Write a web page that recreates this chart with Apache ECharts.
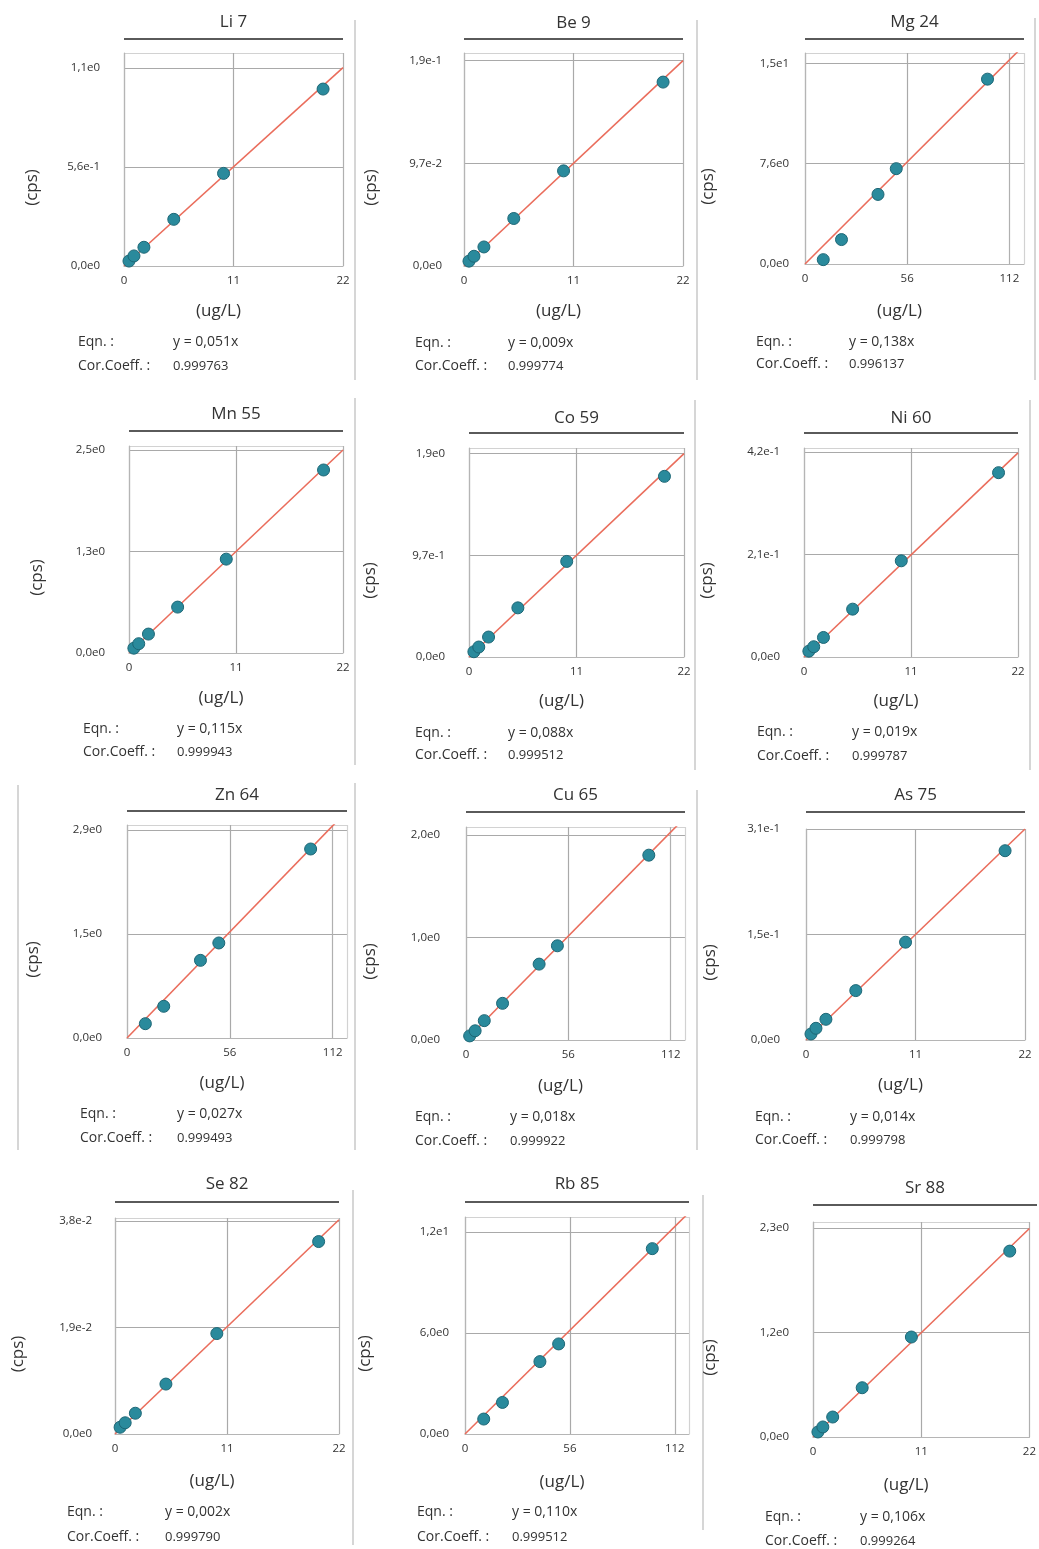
<!DOCTYPE html>
<html><head><meta charset="utf-8">
<script src="https://cdn.jsdelivr.net/npm/echarts@6/dist/echarts.min.js"></script>
<style>html,body{margin:0;padding:0;background:#fff}#c{width:1039px;height:1549px}</style>
</head><body><div id="c"></div>
<script>
// ---------- DATA ----------
const elements = ['Li 7','Be 9','Mg 24','Mn 55','Co 59','Ni 60','Zn 64','Cu 65','As 75','Se 82','Rb 85','Sr 88'];
const concStd  = [0.5, 1, 2, 5, 10, 20];
const concHigh = [10, 20, 40, 50, 100];
const concCu   = [2, 5, 10, 20, 40, 50, 100];

const cpsLi7  = [0.028, 0.057, 0.106, 0.264, 0.524, 1.001];
const cpsBe9  = [0.0046, 0.0092, 0.018, 0.0449, 0.0899, 0.1738];
const cpsMg24 = [0.33, 1.85, 5.27, 7.22, 14.0];
const cpsMn55 = [0.06, 0.116, 0.236, 0.572, 1.170, 2.281];
const cpsCo59 = [0.05, 0.095, 0.19, 0.468, 0.91, 1.72];
const cpsNi60 = [0.012, 0.021, 0.040, 0.098, 0.197, 0.3775];
const cpsZn64 = [0.201, 0.445, 1.090, 1.334, 2.653];
const cpsCu65 = [0.04, 0.09, 0.189, 0.358, 0.741, 0.920, 1.805];
const cpsAs75 = [0.0088, 0.0171, 0.0302, 0.0721, 0.1428, 0.2763];
const cpsSe82 = [0.0012, 0.002, 0.0037, 0.0089, 0.0179, 0.0343];
const cpsRb85 = [0.888, 1.875, 4.30, 5.35, 11.01];
const cpsSr88 = [0.056, 0.112, 0.223, 0.550, 1.116, 2.075];

const concOf = [concStd, concStd, concHigh, concStd, concStd, concStd, concHigh, concCu, concStd, concStd, concHigh, concStd];
const cpsOf  = [cpsLi7, cpsBe9, cpsMg24, cpsMn55, cpsCo59, cpsNi60, cpsZn64, cpsCu65, cpsAs75, cpsSe82, cpsRb85, cpsSr88];

// fitted calibration slope
const fitSlope = [0.051, 0.00882, 0.138, 0.115, 0.088, 0.019, 0.0266, 0.01813, 0.014, 0.001736, 0.110, 0.1058];

const xTicksLow  = ['0', '11', '22'];
const xTicksHigh = ['0', '56', '112'];
const xTickStep  = [11, 11, 56, 11, 11, 11, 56, 56, 11, 11, 56, 11];
const xAxisMax   = [22, 22, 120, 22, 22, 22, 119.8, 119.8, 22, 22, 119.6, 22];

const yTickLabels = [
  ['0,0e0', '5,6e-1', '1,1e0'],
  ['0,0e0', '9,7e-2', '1,9e-1'],
  ['0,0e0', '7,6e0', '1,5e1'],
  ['0,0e0', '1,3e0', '2,5e0'],
  ['0,0e0', '9,7e-1', '1,9e0'],
  ['0,0e0', '2,1e-1', '4,2e-1'],
  ['0,0e0', '1,5e0', '2,9e0'],
  ['0,0e0', '1,0e0', '2,0e0'],
  ['0,0e0', '1,5e-1', '3,1e-1'],
  ['0,0e0', '1,9e-2', '3,8e-2'],
  ['0,0e0', '6,0e0', '1,2e1'],
  ['0,0e0', '1,2e0', '2,3e0']
];
const yTickStep = [0.56, 0.097, 7.6, 1.265, 0.968, 0.21, 1.46, 1.0, 0.154, 0.019, 6.0, 1.166];
const yAxisMax  = [1.205, 0.2013, 15.98, 2.58, 1.99, 0.428, 2.99, 2.08, 0.308, 0.0385, 12.89, 2.40];

const eqnText  = ['y = 0,051x','y = 0,009x','y = 0,138x','y = 0,115x','y = 0,088x','y = 0,019x',
                  'y = 0,027x','y = 0,018x','y = 0,014x','y = 0,002x','y = 0,110x','y = 0,106x'];
const corCoeff = ['0.999763','0.999774','0.996137','0.999943','0.999512','0.999787',
                  '0.999493','0.999922','0.999798','0.999790','0.999512','0.999264'];

// ---------- LAYOUT ----------
// [left, top, right, bottom, titleY, underlineY, cpsX, ugY, eqnX, valX, eqnY, corY, yLabelGap]
const layout = [
  [124, 53, 343, 266,   22,   39,  32,  313,  78, 173,  342,  366, 24],
  [464, 53, 683, 266,   23,   39, 371,  313, 415, 508,  343,  366, 22],
  [805, 53,1024, 264,   22,   39, 708,  313, 756, 849,  342,  364, 16],
  [129,446, 343, 653,  414,  431,  37,  700,  83, 177,  729,  752, 24],
  [469,448, 684, 657,  418,  433, 370,  703, 415, 508,  733,  755, 24],
  [804,448,1018, 657,  418,  433, 707,  703, 757, 852,  732,  756, 24],
  [127,825, 347,1038,  795,  811,  33, 1085,  80, 177, 1114, 1138, 25],
  [466,827, 685,1040,  795,  812, 370, 1088, 415, 510, 1117, 1141, 26],
  [806,829,1025,1040,  795,  812, 710, 1087, 755, 850, 1117, 1140, 26],
  [115,1218,339,1434, 1184, 1202,  18, 1483,  67, 165, 1512, 1537, 23],
  [465,1217,689,1434, 1184, 1202, 365, 1484, 417, 512, 1512, 1537, 16],
  [813,1222,1037,1437,1188, 1205, 710, 1487, 765, 860, 1517, 1541, 24]
];
const separators = [
  [355,20,355,380],[697,20,697,380],[1035,18,1035,380],
  [355,398,355,765],[695,400,695,770],[1030,400,1030,770],
  [18,785,18,1150],[355,783,355,1150],[697,790,697,1150],
  [353,1190,353,1545],[703,1195,703,1530]
];

const FONT = '"Open Sans", "Noto Sans", sans-serif';
const TXT = '#333';

const grids = [], xAxes = [], yAxes = [], series = [], graphics = [];

elements.forEach((name, i) => {
  const [L, T, R, B, titleY, ulY, cpsX, ugY, eqnX, valX, eqnY, corY, yGap] = layout[i];
  grids.push({ left: L, top: T, width: R - L, height: B - T, show: false, containLabel: false });

  const xs = xTickStep[i];
  const xl = xs === 56 ? xTicksHigh : xTicksLow;
  xAxes.push({
    gridIndex: i, type: 'value', min: 0, max: xAxisMax[i], interval: xs,
    axisLine: { show: true, onZero: false, lineStyle: { color: '#b5b5b5', width: 1.2 } },
    axisTick: { show: false },
    axisLabel: {
      margin: 9, fontSize: 11.5, color: TXT, fontFamily: FONT,
      showMinLabel: true, showMaxLabel: true,
      formatter: v => { const k = Math.round(v / xs); return (Math.abs(v - k * xs) < xs * 1e-3 && k <= 2) ? xl[k] : ''; }
    },
    splitLine: { show: true, lineStyle: { color: ['#b5b5b5', '#a9a9a9', '#b0b0b0', '#d2d2d2'], width: 1.2 } },
    name: '(ug/L)', nameLocation: 'middle', nameGap: ugY - B - 10,
    nameTextStyle: { fontSize: 17, color: TXT, fontFamily: FONT, padding: [0, 30, 0, 0] }
  });

  const ys = yTickStep[i];
  const yl = yTickLabels[i];
  yAxes.push({
    gridIndex: i, type: 'value', min: 0, max: yAxisMax[i], interval: ys,
    axisLine: { show: true, onZero: false, lineStyle: { color: '#b5b5b5', width: 1.2 } },
    axisTick: { show: false },
    axisLabel: {
      margin: yGap, fontSize: 11.5, color: TXT, fontFamily: FONT,
      showMinLabel: true, showMaxLabel: true,
      formatter: v => { const k = Math.round(v / ys); return (Math.abs(v - k * ys) < ys * 1e-3 && k <= 2) ? yl[k] : ''; }
    },
    splitLine: { show: true, lineStyle: { color: ['#b5b5b5', '#a9a9a9', '#a9a9a9', '#d2d2d2'], width: 1.2 } },
    name: '(cps)', nameLocation: 'middle', nameGap: L - cpsX - 9, nameRotate: 90,
    nameTextStyle: { fontSize: 17, color: TXT, fontFamily: FONT, padding: [0, 56, 0, 0] }
  });

  const xm = xAxisMax[i];
  series.push({
    type: 'line', xAxisIndex: i, yAxisIndex: i, clip: true, silent: true,
    data: [[0, 0], [xm, fitSlope[i] * xm]],
    symbol: 'none', z: 2,
    lineStyle: { color: '#ea6d5c', width: 1.6 }
  });
  series.push({
    type: 'scatter', xAxisIndex: i, yAxisIndex: i, z: 3,
    data: concOf[i].map((c, j) => [c, cpsOf[i][j]]),
    symbolSize: 12,
    itemStyle: { color: '#2a8a9c', borderColor: '#1d6776', borderWidth: 1, opacity: 1 }
  });

  // title + underline
  graphics.push({ type: 'text', x: (L + R) / 2, y: titleY, style: { text: name, font: '17px ' + FONT, fill: TXT, textAlign: 'center', textVerticalAlign: 'middle' } });
  graphics.push({ type: 'line', shape: { x1: L, y1: ulY, x2: R, y2: ulY }, style: { stroke: '#5a5a5a', lineWidth: 2 } });
  // equation block
  graphics.push({ type: 'text', x: eqnX, y: eqnY, style: { text: 'Eqn. :', font: '14px ' + FONT, fill: TXT, textVerticalAlign: 'middle' } });
  graphics.push({ type: 'text', x: valX, y: eqnY, style: { text: eqnText[i], font: '14px ' + FONT, fill: TXT, textVerticalAlign: 'middle' } });
  graphics.push({ type: 'text', x: eqnX, y: corY, style: { text: 'Cor.Coeff. :', font: '14px ' + FONT, fill: TXT, textVerticalAlign: 'middle' } });
  graphics.push({ type: 'text', x: valX, y: corY, style: { text: corCoeff[i], font: '13px ' + FONT, fill: TXT, textVerticalAlign: 'middle' } });
});

separators.forEach(s => graphics.push({ type: 'line', shape: { x1: s[0], y1: s[1], x2: s[2], y2: s[3] }, style: { stroke: '#c9c9c9', lineWidth: 1.5 } }));

const chart = echarts.init(document.getElementById('c'), null, { renderer: 'canvas' });
chart.setOption({
  animation: false,
  backgroundColor: '#ffffff',
  grid: grids, xAxis: xAxes, yAxis: yAxes, series: series,
  graphic: { elements: graphics }
});
</script></body></html>
